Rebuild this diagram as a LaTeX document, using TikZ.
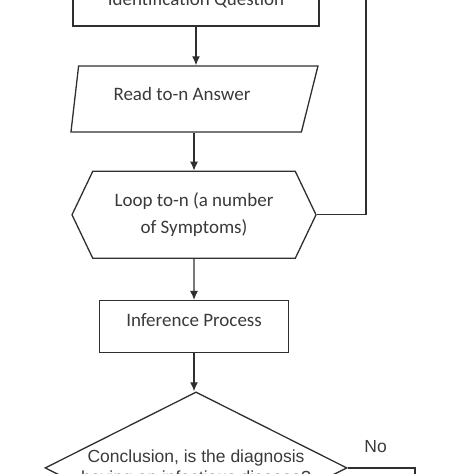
\documentclass[tikz,border=0pt]{standalone}
\usepackage{fontspec}
\setmainfont{Carlito}
\newfontfamily\arialfont{Liberation Sans}
\usetikzlibrary{arrows.meta,positioning,shapes.geometric,shapes.symbols}
\tikzset{>={Latex[width=8pt,length=9pt]}}
\definecolor{flowline}{HTML}{2F2F2F}
\definecolor{flowtext}{HTML}{3A3A3A}

\begin{document}
\begin{tikzpicture}[x=1pt, y=-1pt, node distance={38pt}, line width=1.3pt, color=flowline,
  every node/.style={text=flowtext, font=\fontsize{19}{27}\selectfont, inner sep=0pt},
  proc/.style={draw, rectangle, text height=13pt, text depth=4pt},
  io/.style={draw, trapezium, trapezium left angle=83.4, trapezium right angle=104.1, trapezium stretches body=true},
  loopnode/.style={draw, signal, signal to=west and east, signal pointer angle=129},
  decide/.style={draw, diamond},
  arial/.style={font=\arialfont\fontsize{17.5}{21}\selectfont}]
\useasboundingbox (0,0) rectangle (474,474);
\clip (0,0) rectangle (474,474);
\node[proc, minimum width=246, minimum height=50] (ident) at (196,1) {Identification Question};
\node[io, minimum width=247, inner ysep=21pt, text height=13pt, text depth=11pt] (read) at (190,99) {Read to-n Answer\hspace*{16pt}};
\node[loopnode, minimum width=244, minimum height=87, align=center] (loop) [below=of read, xshift=4pt] {Loop to-n (a number\\of Symptoms)};
\node[proc, minimum width=189, minimum height=52, text depth=13pt] (infer) [below=41pt of loop] {Inference Process};
\node[decide, minimum width=302, minimum height=152] (concl) [below=38pt of infer, xshift=2pt] {};
\node[arial, align=center] (concltext) at ([yshift=-1pt]concl.center) {Conclusion, is the diagnosis\\having an infectious disease?};
\node[arial] (no) at ([xshift=28pt, yshift=21pt]concl.east) {No};
\coordinate (back) at (366,-40);
\coordinate (nodown) at (415,520);
\draw[->] (ident.south) -- (ident.south |- read.north);
\draw[->] (loop.north |- read.south) -- (loop.north);
\draw[->] (loop) -- (infer);
\draw[->] (infer.south) -- (infer.south |- concl.north);
\draw (loop.east) -| (back);
\draw (concl.east) -| (nodown);
\end{tikzpicture}
\end{document}
